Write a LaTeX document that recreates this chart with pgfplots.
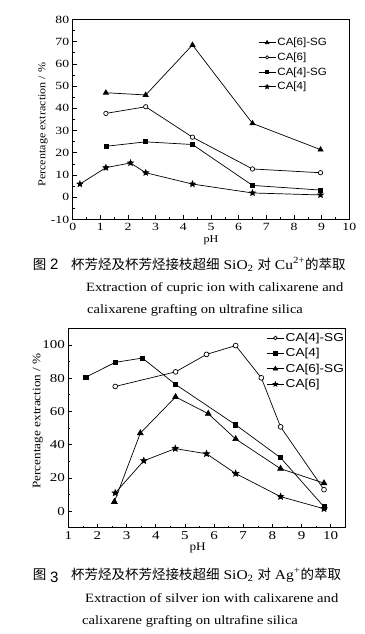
\documentclass[border=0pt]{standalone}
\usepackage{fontspec}
\setmainfont{Liberation Serif}[FakeStretch=1.15]
\newfontfamily\cjk{Noto Sans CJK SC}
\newfontfamily\legfontA{Liberation Sans}[FakeStretch=1.1]
\newfontfamily\legfontB{Liberation Sans}[FakeStretch=1.18]
\newfontfamily\numfont{Liberation Serif}[FakeStretch=1.25]
\newfontfamily\digfont{Liberation Sans}
\usepackage{pgfplots}
\pgfplotsset{compat=1.18}
\pgfdeclareplotmark{fstar}{%
  \pgfpathmoveto{\pgfpointpolar{90}{\pgfplotmarksize}}%
  \pgfpathlineto{\pgfpointpolar{126}{0.45\pgfplotmarksize}}%
  \pgfpathlineto{\pgfpointpolar{162}{\pgfplotmarksize}}%
  \pgfpathlineto{\pgfpointpolar{198}{0.45\pgfplotmarksize}}%
  \pgfpathlineto{\pgfpointpolar{234}{\pgfplotmarksize}}%
  \pgfpathlineto{\pgfpointpolar{270}{0.45\pgfplotmarksize}}%
  \pgfpathlineto{\pgfpointpolar{306}{\pgfplotmarksize}}%
  \pgfpathlineto{\pgfpointpolar{342}{0.45\pgfplotmarksize}}%
  \pgfpathlineto{\pgfpointpolar{18}{\pgfplotmarksize}}%
  \pgfpathlineto{\pgfpointpolar{54}{0.45\pgfplotmarksize}}%
  \pgfpathclose\pgfusepathqfillstroke}
\pgfplotsset{
  common/.style={
    scale only axis,
    anchor=south west,
    axis line style={line width=0.8pt},
    tick style={black, line width=0.6pt},
    major tick length=4pt, minor tick length=2pt,
    tick pos=left, tick align=inside,
    minor tick num=1,
    /pgf/number format/assume math mode=true,
    legend cell align=left,
    legend image code/.code={\draw[mark repeat=2,mark phase=2,/tikz/every mark/.append style={scale=0.75}] plot coordinates {(0pt,0pt)(8.5pt,0pt)(17pt,0pt)};},
  },
  ser/.style={black, line width=0.7pt, mark options={solid}},
}
\begin{document}
\begin{tikzpicture}
\useasboundingbox (0,0) rectangle (364pt,-634pt);
% ---------- top chart ----------
\begin{axis}[common,
  at={(72.7pt,-219.4pt)}, width=276.6pt, height=200pt,
  xmin=0, xmax=10, ymin=-10, ymax=80,
  xtick={0,1,...,10}, ytick={-10,0,...,80},
  ticklabel style={font=\numfont\fontsize{11}{12}\selectfont},
  xlabel={pH}, ylabel={Percentage extraction / \%},
  label style={font=\fontsize{10.5}{12}\selectfont},
  xlabel style={at={(axis description cs:0.5,-0.103)}, anchor=center},
  ylabel style={at={(axis description cs:-0.107,0.474)}, anchor=center},
  legend style={at={(axis description cs:0.67,0.915)}, anchor=north west,
    draw=none, fill=none, inner sep=0pt, row sep=2.6pt,
    nodes={inner sep=1.5pt},
    font=\legfontA\fontsize{10.5}{12}\selectfont},
]
\addplot[ser, mark=triangle*, mark size=2.9pt] coordinates {
 (1.2,47) (2.64,46) (4.33,68.5) (6.5,33.2) (8.96,21.4)};
\addlegendentry{CA[6]-SG}
\addplot[ser, mark=*, mark size=2.2pt, mark options={fill=white}] coordinates {
 (1.2,37.7) (2.64,40.7) (4.33,27) (6.5,12.7) (8.96,11)};
\addlegendentry{CA[6]}
\addplot[ser, mark=square*, mark size=2pt] coordinates {
 (1.2,22.9) (2.64,24.9) (4.33,23.7) (6.5,5.3) (8.96,3.2)};
\addlegendentry{CA[4]-SG}
\addplot[ser, mark=fstar, mark size=3pt] coordinates {
 (0.26,5.9) (1.2,13.3) (2.09,15.4) (2.64,11) (4.33,5.9) (6.5,1.9) (8.96,1)};
\addlegendentry{CA[4]}
\end{axis}
% ---------- bottom chart ----------
\begin{axis}[common,
  at={(68.3pt,-527.7pt)}, width=277pt, height=199.4pt,
  xmin=1, xmax=10.5, ymin=-10, ymax=110,
  xtick={1,2,...,10}, ytick={0,20,...,100},
  ticklabel style={font=\numfont\fontsize{12}{13}\selectfont},
  xlabel={pH}, ylabel={Percentage extraction / \%},
  label style={font=\fontsize{11.5}{13}\selectfont},
  xlabel style={at={(axis description cs:0.467,-0.102)}, anchor=center},
  ylabel style={at={(axis description cs:-0.110,0.535)}, anchor=center},
  legend style={at={(axis description cs:0.715,0.985)}, anchor=north west,
    draw=none, fill=none, inner sep=0pt, row sep=2.6pt,
    nodes={inner sep=1.5pt},
    font=\legfontB\fontsize{11.5}{13}\selectfont},
]
\addplot[ser, mark=*, mark size=2.4pt, mark options={fill=white}] coordinates {
 (2.61,75) (4.68,83.8) (5.74,94.3) (6.74,99.6) (7.62,80.2) (8.28,50.7) (9.77,12.9)};
\addlegendentry{CA[4]-SG}
\addplot[ser, mark=square*, mark size=2.1pt] coordinates {
 (1.6,80.6) (2.61,89.5) (3.54,92.1) (4.68,76.2) (6.74,51.9) (8.28,32.1) (9.77,2.6)};
\addlegendentry{CA[4]}
\addplot[ser, mark=triangle*, mark size=3.3pt] coordinates {
 (2.58,5.6) (3.47,46.9) (4.68,68.7) (5.8,58.6) (6.74,43.4) (8.28,25.5) (9.77,16.8)};
\addlegendentry{CA[6]-SG}
\addplot[ser, mark=fstar, mark size=3.2pt] coordinates {
 (2.61,10.9) (3.59,30.3) (4.67,37.6) (5.74,34.5) (6.74,22.6) (8.28,8.7) (9.77,1.4)};
\addlegendentry{CA[6]}
\end{axis}
% ---------- captions ----------
\begin{scope}[every node/.style={inner sep=0pt, anchor=base west}]
\node at (32.7pt,-269pt) {\cjk\fontsize{13.5}{15}\selectfont 图};
\node at (50pt,-269pt) {\digfont\fontsize{15}{17}\selectfont 2};
\node at (71pt,-269pt) {\fontsize{13.5}{15}\selectfont{\cjk 杯芳烃及杯芳烃接枝超细} SiO\textsubscript{2} {\cjk 对} Cu\textsuperscript{2+}{\cjk 的萃取}};
\node at (86pt,-291.7pt) {\fontsize{12.7}{15}\selectfont Extraction of cupric ion with calixarene and};
\node at (87pt,-313.5pt) {\fontsize{12.7}{15}\selectfont calixarene grafting on ultrafine silica};
\node at (32.7pt,-579pt) {\cjk\fontsize{13.5}{15}\selectfont 图};
\node at (50pt,-582pt) {\digfont\fontsize{15}{17}\selectfont 3};
\node at (71pt,-579pt) {\fontsize{13.5}{15}\selectfont{\cjk 杯芳烃及杯芳烃接枝超细} SiO\textsubscript{2} {\cjk 对} Ag\textsuperscript{+}{\cjk 的萃取}};
\node at (85pt,-602.7pt) {\fontsize{12.7}{15}\selectfont Extraction of silver ion with calixarene and};
\node at (82pt,-624pt) {\fontsize{12.7}{15}\selectfont calixarene grafting on ultrafine silica};
\end{scope}
\end{tikzpicture}
\end{document}
